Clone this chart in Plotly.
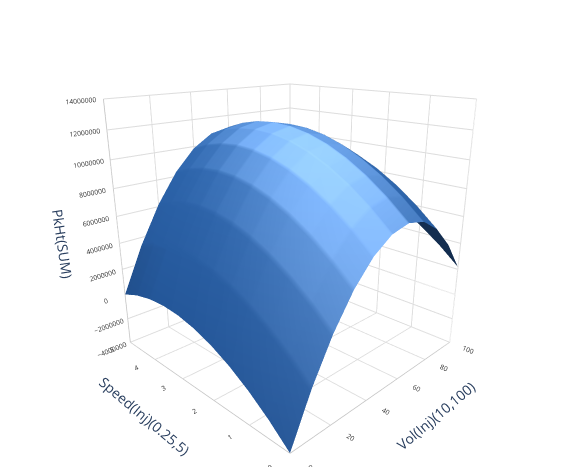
import plotly.graph_objects as go

vol = [0, 10, 20, 30, 40, 50, 60, 70, 80, 90, 100]
speed = [0, 0.5, 1, 1.5, 2, 2.5, 3, 3.5, 4, 4.5, 5]
# PkHt(SUM) in millions; rows by speed, columns by vol
pkht_m = [
    [-4.0, -0.61, 2.17, 4.33, 5.87, 6.79, 7.1, 6.79, 5.87, 4.33, 2.17],
    [-2.7, 0.69, 3.47, 5.63, 7.17, 8.09, 8.4, 8.09, 7.17, 5.63, 3.47],
    [-1.6, 1.79, 4.57, 6.73, 8.27, 9.19, 9.5, 9.19, 8.27, 6.73, 4.57],
    [-0.7, 2.69, 5.47, 7.63, 9.17, 10.09, 10.4, 10.09, 9.17, 7.63, 5.47],
    [0.0, 3.39, 6.17, 8.33, 9.87, 10.79, 11.1, 10.79, 9.87, 8.33, 6.17],
    [0.5, 3.89, 6.67, 8.83, 10.37, 11.29, 11.6, 11.29, 10.37, 8.83, 6.67],
    [0.8, 4.19, 6.97, 9.13, 10.67, 11.59, 11.9, 11.59, 10.67, 9.13, 6.97],
    [0.9, 4.29, 7.07, 9.23, 10.77, 11.69, 12.0, 11.69, 10.77, 9.23, 7.07],
    [0.8, 4.19, 6.97, 9.13, 10.67, 11.59, 11.9, 11.59, 10.67, 9.13, 6.97],
    [0.5, 3.89, 6.67, 8.83, 10.37, 11.29, 11.6, 11.29, 10.37, 8.83, 6.67],
    [0.0, 3.39, 6.17, 8.33, 9.87, 10.79, 11.1, 10.79, 9.87, 8.33, 6.17],
]
pkht = [[v * 1e6 for v in row] for row in pkht_m]

fig = go.Figure(go.Surface(
    x=vol, y=speed, z=pkht,
    colorscale=[[0, "#1f4f8f"], [1, "#2f68b0"]],
    showscale=False,
    lighting=dict(ambient=0.5, diffuse=0.9, specular=0.35, roughness=0.5),
    lightposition=dict(x=-1000, y=200, z=300),
))
ax = dict(showbackground=True, backgroundcolor="white", gridcolor="#dddddd",
          linecolor="#bbbbbb", showline=True,
          tickfont=dict(size=9, family="Open Sans", color="#333"),
          title_font=dict(size=13, family="Open Sans", color="#333"))
fig.update_layout(
    width=564, height=467,
    paper_bgcolor="white",
    margin=dict(l=0, r=0, t=0, b=0),
    scene=dict(
        xaxis=dict(ax, title="Vol(Inj)(10,100)", range=[0, 100], dtick=20),
        yaxis=dict(ax, title="Speed(Inj)(0.25,5)", range=[0, 5], dtick=1),
        zaxis=dict(ax, title="PkHt(SUM)", range=[-4e6, 14e6], dtick=2e6, tickformat="d"),
        camera=dict(eye=dict(x=-1.55, y=-1.55, z=0.75), center=dict(x=0, y=0, z=-0.05)),
        aspectmode="manual", aspectratio=dict(x=1, y=1, z=1.05),
    ),
)
fig.write_html("out.html")
